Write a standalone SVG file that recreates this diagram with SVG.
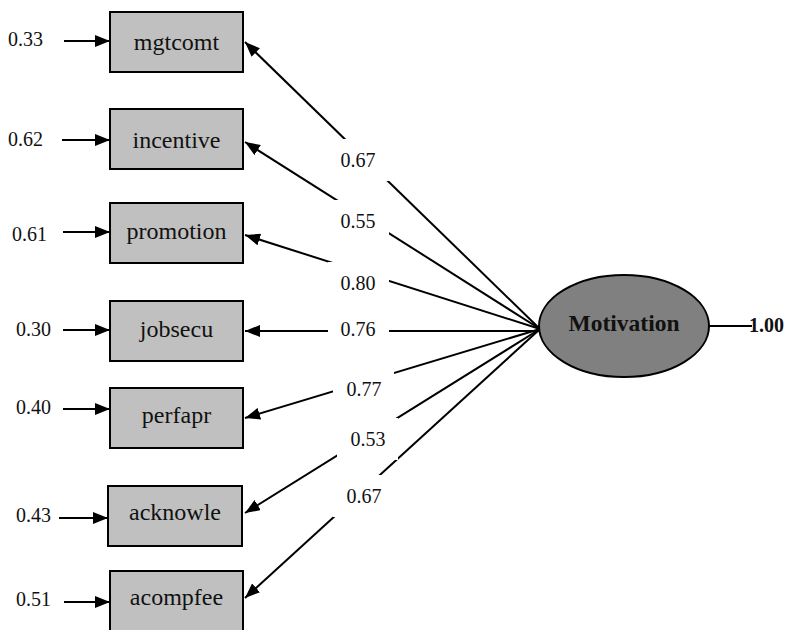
<svg xmlns="http://www.w3.org/2000/svg" width="787" height="630" viewBox="0 0 787 630">
<style>
.box{fill:#c0c0c0;stroke:#000;stroke-width:2}
.lat{fill:#808080;stroke:#000;stroke-width:2}
.lbl{font-family:"Liberation Serif","Times New Roman",serif;font-size:24px;fill:#111;text-anchor:middle}
.num{font-family:"Liberation Serif","Times New Roman",serif;font-size:20px;fill:#111}
.cnum{font-family:"Liberation Serif","Times New Roman",serif;font-size:20px;fill:#111;text-anchor:middle}
.bold{font-family:"Liberation Serif","Times New Roman",serif;font-weight:bold;fill:#111}
.ln{stroke:#000;stroke-width:2;fill:none}
.arr{stroke:#000;stroke-width:2;fill:none;marker-end:url(#ah)}
.bg{fill:#fff}
</style>
<defs>
<marker id="ah" markerUnits="userSpaceOnUse" markerWidth="16" markerHeight="12" refX="15" refY="6" orient="auto">
<path d="M0,0 L15,6 L0,12 z" fill="#000"/>
</marker>
</defs>
<g id="connectors">
<line class="arr" x1="64" y1="41" x2="110" y2="41"/>
<line class="arr" x1="62" y1="140" x2="110" y2="140"/>
<line class="arr" x1="63" y1="232" x2="110" y2="232"/>
<line class="arr" x1="63" y1="330" x2="110" y2="330"/>
<line class="arr" x1="63" y1="409" x2="110" y2="409"/>
<line class="arr" x1="59" y1="518" x2="108" y2="518"/>
<line class="arr" x1="64" y1="602" x2="110" y2="602"/>
<line class="arr" x1="540" y1="329" x2="245" y2="42"/>
<line class="arr" x1="540" y1="329" x2="245" y2="142"/>
<line class="arr" x1="540" y1="329" x2="245" y2="235"/>
<line class="arr" x1="540" y1="331" x2="245" y2="331"/>
<line class="arr" x1="540" y1="329" x2="245" y2="418"/>
<line class="arr" x1="540" y1="329" x2="245" y2="513"/>
<line class="arr" x1="540" y1="329" x2="245" y2="598"/>
<line class="ln" x1="709" y1="326" x2="752" y2="326" stroke-width="1.5"/>
<rect class="bg" x="328" y="139" width="61" height="42"/>
<rect class="bg" x="328" y="200" width="61" height="42"/>
<rect class="bg" x="328" y="262" width="61" height="42"/>
<rect class="bg" x="328" y="308" width="61" height="42"/>
<rect class="bg" x="333" y="368" width="61" height="42"/>
<rect class="bg" x="337" y="418" width="61" height="42"/>
<rect class="bg" x="333" y="475" width="61" height="42"/>
<text class="cnum" x="358" y="167">0.67</text>
<text class="cnum" x="358" y="228">0.55</text>
<text class="cnum" x="358" y="290">0.80</text>
<text class="cnum" x="358" y="336">0.76</text>
<text class="cnum" x="364" y="396">0.77</text>
<text class="cnum" x="368" y="446">0.53</text>
<text class="cnum" x="364" y="503">0.67</text>
<text class="num" x="8" y="46">0.33</text>
<text class="num" x="8" y="146">0.62</text>
<text class="num" x="12" y="241">0.61</text>
<text class="num" x="16" y="336">0.30</text>
<text class="num" x="16" y="414">0.40</text>
<text class="num" x="16" y="522">0.43</text>
<text class="num" x="16" y="606">0.51</text>
<text class="bold" x="749" y="332" font-size="20">1.00</text>
</g>
<g id="mgtcomt"><rect class="box" x="110" y="12" width="133" height="60"/><text class="lbl" x="176.5" y="50">mgtcomt</text></g>
<g id="incentive"><rect class="box" x="110" y="109" width="133" height="60"/><text class="lbl" x="176.5" y="148">incentive</text></g>
<g id="promotion"><rect class="box" x="110" y="203" width="133" height="60"/><text class="lbl" x="176.5" y="239">promotion</text></g>
<g id="jobsecu"><rect class="box" x="110" y="301" width="133" height="60"/><text class="lbl" x="176.5" y="337">jobsecu</text></g>
<g id="perfapr"><rect class="box" x="110" y="388" width="133" height="60"/><text class="lbl" x="176.5" y="423">perfapr</text></g>
<g id="acknowle"><rect class="box" x="108" y="486" width="134" height="60"/><text class="lbl" x="175" y="520">acknowle</text></g>
<g id="acompfee"><rect class="box" x="110" y="571" width="133" height="60"/><text class="lbl" x="176.5" y="605">acompfee</text></g>
<g id="Motivation"><ellipse class="lat" cx="624" cy="326" rx="85" ry="51"/><text class="bold" x="624" y="331" font-size="23.5" text-anchor="middle">Motivation</text></g>
</svg>
